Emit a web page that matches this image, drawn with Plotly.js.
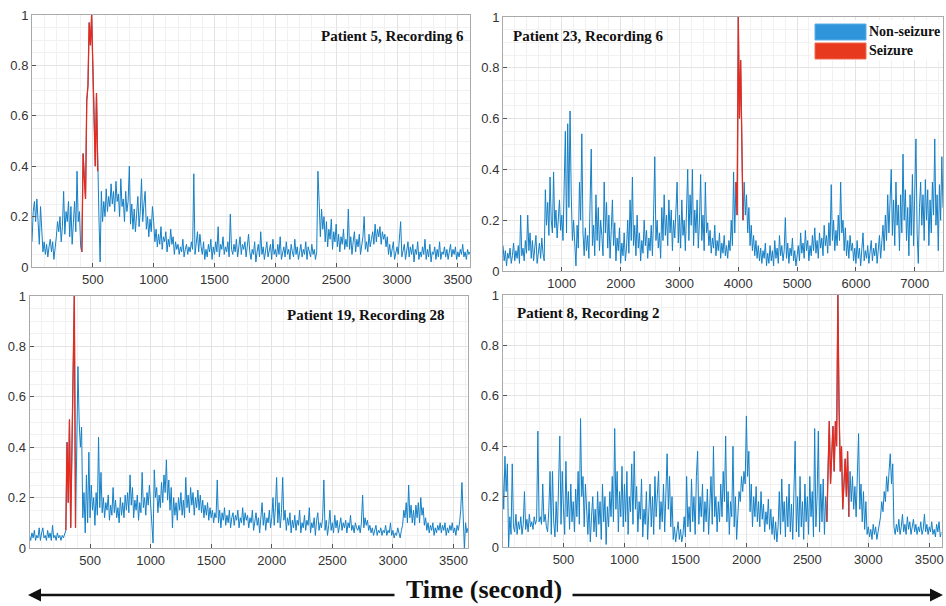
<!DOCTYPE html>
<html>
<head>
<meta charset="utf-8">
<script src="https://cdn.plot.ly/plotly-3.0.1.min.js"></script>
<style>
html,body{margin:0;padding:0;background:#fff;}
#chart{width:946px;height:606px;}
</style>
</head>
<body>
<div id="chart"></div>
<script>
// ---------------- DATA ----------------
const panelTitles = ["Patient 5, Recording 6", "Patient 23, Recording 6", "Patient 19, Recording 28", "Patient 8, Recording 2"];
const legendLabels = ["Non-seizure", "Seizure"];
const xAxisTitle = "Time (second)";
const yTickVals = [0, 0.2, 0.4, 0.6, 0.8, 1];
const yTickText = ["0", "0.2", "0.4", "0.6", "0.8", "1"];
const xTicks3600 = [500, 1000, 1500, 2000, 2500, 3000, 3500];
const xTicks7500 = [1000, 2000, 3000, 4000, 5000, 6000, 7000];

// Patient 5, Recording 6 : one value every 10 s, 0..3600 s
const p5Step = 10;
const p5Seizure = [410, 540];
const p5Values = [
0.10,0.22,0.26,0.18,0.27,0.15,0.09,0.24,0.12,0.06,0.10,0.05,0.09,0.04,0.08,0.11,0.06,0.10,0.03,0.07,
0.12,0.18,0.14,0.20,0.10,0.16,0.30,0.13,0.22,0.18,0.26,0.12,0.24,0.09,0.20,0.26,0.14,0.38,0.18,0.22,
0.08,0.06,0.45,0.35,0.27,0.66,0.72,0.97,0.88,1.00,0.82,0.62,0.40,0.69,0.38,0.20,0.02,0.30,0.18,0.26,
0.20,0.31,0.22,0.28,0.24,0.33,0.25,0.30,0.22,0.34,0.26,0.29,0.20,0.35,0.24,0.27,0.18,0.30,0.22,0.26,
0.40,0.17,0.25,0.15,0.23,0.14,0.21,0.28,0.16,0.22,0.35,0.18,0.25,0.30,0.15,0.20,0.12,0.19,0.14,0.24,
0.18,0.10,0.15,0.08,0.13,0.09,0.16,0.07,0.12,0.10,0.14,0.06,0.11,0.08,0.15,0.09,0.12,0.05,0.10,0.07,
0.09,0.05,0.08,0.06,0.11,0.04,0.07,0.09,0.05,0.08,0.06,0.10,0.07,0.37,0.05,0.09,0.14,0.06,0.13,0.08,
0.05,0.10,0.03,0.07,0.04,0.09,0.06,0.11,0.03,0.08,0.05,0.10,0.06,0.16,0.04,0.09,0.07,0.12,0.05,0.08,
0.06,0.10,0.04,0.21,0.07,0.05,0.09,0.06,0.11,0.04,0.08,0.12,0.05,0.09,0.07,0.10,0.04,0.08,0.13,0.06,
0.03,0.07,0.05,0.10,0.02,0.06,0.09,0.04,0.14,0.05,0.08,0.03,0.07,0.10,0.04,0.06,0.09,0.03,0.11,0.05,
0.07,0.04,0.09,0.05,0.12,0.03,0.06,0.08,0.04,0.10,0.05,0.07,0.03,0.09,0.06,0.04,0.11,0.05,0.08,0.03,
0.06,0.09,0.04,0.07,0.05,0.10,0.03,0.08,0.06,0.04,0.09,0.05,0.07,0.03,0.06,0.38,0.26,0.12,0.23,0.15,
0.20,0.10,0.18,0.08,0.15,0.11,0.19,0.07,0.14,0.10,0.17,0.08,0.13,0.06,0.12,0.09,0.15,0.07,0.11,0.08,
0.23,0.07,0.12,0.05,0.10,0.14,0.06,0.11,0.08,0.13,0.05,0.09,0.12,0.20,0.07,0.10,0.06,0.13,0.08,0.11,
0.14,0.09,0.17,0.10,0.15,0.12,0.16,0.09,0.14,0.11,0.13,0.08,0.12,0.05,0.09,0.04,0.07,0.10,0.03,0.06,
0.08,0.05,0.10,0.18,0.04,0.07,0.09,0.03,0.06,0.10,0.04,0.08,0.05,0.09,0.02,0.07,0.05,0.10,0.03,0.06,
0.04,0.08,0.05,0.11,0.03,0.07,0.04,0.09,0.02,0.06,0.05,0.08,0.03,0.07,0.04,0.10,0.03,0.06,0.05,0.08,
0.04,0.07,0.03,0.06,0.09,0.04,0.07,0.05,0.08,0.03,0.06,0.04,0.07,0.05,0.09,0.04,0.06,0.03,0.07,0.05,
0.06
];

// Patient 23, Recording 6 : one value every 20 s, 0..7480 s
const p23Step = 20;
const p23Seizure = [3960, 4080];
const p23Values = [
0.10,0.04,0.08,0.02,0.07,0.05,0.09,0.03,0.06,0.11,0.04,0.08,0.05,0.10,0.03,0.22,0.06,0.09,0.04,0.12,0.07,0.22,0.08,0.15,0.05,
0.12,0.04,0.09,0.14,0.03,0.08,0.11,0.05,0.13,0.07,0.04,0.32,0.18,0.27,0.14,0.37,0.20,0.15,0.39,0.17,0.24,0.13,0.21,0.28,0.16,
0.22,0.12,0.30,0.55,0.15,0.58,0.25,0.63,0.30,0.12,0.20,0.08,0.02,0.18,0.09,0.35,0.20,0.54,0.15,0.06,0.17,0.08,0.14,0.05,0.22,
0.48,0.10,0.18,0.06,0.30,0.12,0.25,0.08,0.20,0.14,0.06,0.35,0.15,0.27,0.09,0.22,0.05,0.16,0.28,0.10,0.19,0.04,0.13,0.08,0.17,
0.03,0.11,0.06,0.15,0.04,0.09,0.20,0.07,0.28,0.12,0.37,0.10,0.18,0.06,0.22,0.09,0.15,0.04,0.12,0.07,0.20,0.10,0.16,0.05,0.13,
0.08,0.18,0.06,0.22,0.45,0.12,0.20,0.09,0.15,0.05,0.25,0.12,0.30,0.14,0.22,0.10,0.28,0.15,0.24,0.08,0.20,0.13,0.26,0.35,0.11,
0.22,0.09,0.28,0.14,0.20,0.08,0.25,0.40,0.12,0.30,0.18,0.40,0.10,0.24,0.15,0.28,0.09,0.20,0.38,0.12,0.22,0.08,0.35,0.15,0.19,
0.10,0.16,0.07,0.13,0.09,0.18,0.06,0.12,0.08,0.15,0.05,0.11,0.07,0.14,0.06,0.10,0.05,0.12,0.08,0.20,0.10,0.39,0.15,0.35,0.22,
1.00,0.60,0.83,0.45,0.20,0.35,0.22,0.30,0.15,0.25,0.10,0.18,0.08,0.14,0.06,0.12,0.05,0.10,0.04,0.09,0.03,0.08,0.05,0.11,0.02,
0.07,0.03,0.10,0.04,0.08,0.02,0.12,0.05,0.09,0.03,0.14,0.06,0.10,0.04,0.08,0.21,0.05,0.11,0.03,0.09,0.06,0.13,0.04,0.08,0.02,
0.06,0.10,0.04,0.15,0.07,0.11,0.05,0.16,0.08,0.12,0.04,0.10,0.06,0.14,0.08,0.17,0.07,0.12,0.05,0.15,0.09,0.13,0.06,0.18,0.10,
0.14,0.07,0.19,0.10,0.34,0.12,0.20,0.08,0.16,0.10,0.22,0.12,0.35,0.15,0.20,0.08,0.17,0.06,0.12,0.05,0.14,0.08,0.11,0.04,0.09,
0.03,0.12,0.05,0.09,0.02,0.07,0.15,0.04,0.08,0.05,0.10,0.03,0.07,0.12,0.04,0.09,0.06,0.11,0.03,0.08,0.14,0.05,0.10,0.18,0.08,
0.22,0.12,0.30,0.15,0.25,0.40,0.14,0.28,0.10,0.35,0.18,0.26,0.08,0.30,0.15,0.46,0.20,0.32,0.12,0.25,0.06,0.30,0.14,0.38,0.10,
0.28,0.52,0.15,0.03,0.25,0.35,0.18,0.30,0.12,0.36,0.20,0.32,0.10,0.28,0.15,0.35,0.22,0.52,0.18,0.30,0.08,0.34,0.20,0.45,0.25
];

// Patient 19, Recording 28 : one value every 10 s, 0..3620 s
const p19Step = 10;
const p19Seizure = [300, 380];
const p19Values = [
0.05,0.03,0.06,0.04,0.07,0.03,0.05,0.04,0.08,0.03,0.06,0.08,0.04,0.05,0.03,0.07,0.04,0.06,0.03,0.09,
0.04,0.05,0.03,0.06,0.04,0.05,0.03,0.05,0.04,0.06,0.07,0.42,0.18,0.51,0.08,0.38,0.70,1.00,0.08,0.45,
0.72,0.50,0.40,0.48,0.12,0.22,0.06,0.29,0.10,0.38,0.12,0.25,0.15,0.20,0.09,0.22,0.13,0.44,0.16,0.30,
0.14,0.20,0.12,0.18,0.15,0.21,0.11,0.17,0.13,0.24,0.14,0.19,0.12,0.16,0.10,0.20,0.13,0.18,0.12,0.21,
0.15,0.22,0.14,0.29,0.17,0.24,0.12,0.19,0.15,0.21,0.11,0.18,0.14,0.30,0.16,0.20,0.13,0.22,0.17,0.25,
0.18,0.10,0.02,0.31,0.20,0.24,0.14,0.21,0.16,0.26,0.18,0.29,0.22,0.35,0.19,0.27,0.15,0.24,0.08,0.20,
0.13,0.18,0.11,0.20,0.15,0.22,0.13,0.19,0.12,0.28,0.16,0.21,0.14,0.24,0.17,0.22,0.13,0.20,0.16,0.23,
0.15,0.21,0.14,0.19,0.12,0.17,0.13,0.18,0.11,0.16,0.12,0.15,0.10,0.14,0.12,0.27,0.10,0.15,0.08,0.14,
0.11,0.16,0.09,0.13,0.10,0.15,0.08,0.12,0.14,0.09,0.13,0.11,0.15,0.08,0.12,0.10,0.16,0.09,0.14,0.11,
0.13,0.08,0.12,0.10,0.15,0.07,0.11,0.14,0.09,0.12,0.06,0.13,0.18,0.09,0.14,0.07,0.12,0.10,0.15,0.08,
0.12,0.20,0.09,0.16,0.28,0.10,0.18,0.08,0.14,0.28,0.11,0.15,0.07,0.12,0.09,0.14,0.06,0.11,0.08,0.13,
0.07,0.11,0.09,0.15,0.06,0.10,0.08,0.13,0.07,0.11,0.09,0.16,0.06,0.10,0.08,0.12,0.05,0.11,0.14,0.07,
0.10,0.08,0.12,0.27,0.07,0.11,0.05,0.09,0.15,0.07,0.10,0.06,0.13,0.08,0.11,0.06,0.09,0.12,0.07,0.10,
0.08,0.11,0.06,0.10,0.08,0.13,0.07,0.09,0.06,0.10,0.08,0.07,0.09,0.06,0.10,0.21,0.08,0.12,0.09,0.11,
0.07,0.09,0.06,0.08,0.05,0.07,0.09,0.05,0.07,0.06,0.08,0.05,0.07,0.06,0.09,0.05,0.07,0.06,0.10,0.05,
0.07,0.04,0.06,0.05,0.08,0.06,0.04,0.07,0.09,0.15,0.12,0.18,0.10,0.25,0.12,0.17,0.10,0.15,0.09,0.17,
0.12,0.18,0.10,0.20,0.13,0.16,0.09,0.12,0.07,0.10,0.06,0.09,0.07,0.10,0.05,0.08,0.06,0.09,0.07,0.10,
0.06,0.09,0.07,0.10,0.05,0.08,0.06,0.09,0.07,0.10,0.06,0.08,0.05,0.09,0.07,0.10,0.15,0.26,0.08,0.00,
0.10,0.06,0.08
];

// Patient 8, Recording 2 : one value every 10 s, 0..3600 s
const p8Step = 10;
const p8Seizure = [2660, 2840];
const p8Values = [
0.30,0.15,0.36,0.22,0.33,0.00,0.12,0.05,0.33,0.08,0.06,0.13,0.05,0.10,0.07,0.12,0.05,0.09,0.22,0.07,
0.11,0.06,0.13,0.08,0.10,0.07,0.12,0.09,0.11,0.46,0.10,0.12,0.09,0.25,0.10,0.13,0.08,0.06,0.15,0.30,
0.05,0.30,0.10,0.04,0.18,0.06,0.25,0.44,0.09,0.30,0.15,0.05,0.34,0.12,0.22,0.07,0.25,0.10,0.18,0.06,
0.23,0.12,0.30,0.09,0.51,0.20,0.28,0.08,0.25,0.14,0.05,0.18,0.02,0.12,0.20,0.06,0.15,0.04,0.22,0.09,
0.18,0.03,0.25,0.10,0.20,0.01,0.16,0.08,0.22,0.12,0.28,0.10,0.47,0.15,0.30,0.06,0.22,0.12,0.32,0.08,
0.25,0.10,0.30,0.05,0.20,0.14,0.33,0.09,0.38,0.15,0.24,0.06,0.18,0.11,0.27,0.04,0.15,0.09,0.22,0.03,
0.14,0.25,0.08,0.20,0.05,0.28,0.12,0.22,0.30,0.07,0.18,0.10,0.25,0.06,0.20,0.37,0.15,0.28,0.08,0.20,
0.03,0.08,0.02,0.06,0.10,0.03,0.07,0.02,0.05,0.12,0.04,0.28,0.08,0.16,0.06,0.27,0.10,0.20,0.05,0.28,
0.38,0.09,0.20,0.12,0.25,0.06,0.18,0.10,0.23,0.05,0.15,0.28,0.09,0.40,0.12,0.20,0.06,0.18,0.10,0.25,
0.12,0.30,0.18,0.44,0.10,0.22,0.05,0.18,0.12,0.40,0.08,0.20,0.03,0.15,0.22,0.18,0.28,0.22,0.30,0.25,
0.52,0.28,0.38,0.14,0.25,0.08,0.20,0.12,0.24,0.10,0.18,0.08,0.22,0.11,0.17,0.06,0.14,0.09,0.19,0.07,
0.15,0.05,0.12,0.03,0.10,0.02,0.08,0.22,0.05,0.27,0.10,0.18,0.04,0.20,0.08,0.25,0.06,0.17,0.03,0.22,
0.42,0.06,0.20,0.04,0.28,0.08,0.18,0.03,0.25,0.10,0.20,0.05,0.28,0.12,0.22,0.04,0.47,0.08,0.20,0.46,
0.06,0.25,0.10,0.27,0.05,0.20,0.10,0.32,0.50,0.25,0.35,0.48,0.30,0.50,0.40,1.00,0.55,0.30,0.40,0.15,
0.25,0.35,0.20,0.38,0.12,0.30,0.18,0.28,0.15,0.24,0.12,0.30,0.45,0.15,0.25,0.10,0.22,0.07,0.18,0.05,
0.08,0.04,0.07,0.03,0.09,0.05,0.08,0.03,0.06,0.10,0.12,0.18,0.14,0.22,0.18,0.28,0.22,0.30,0.37,0.25,
0.33,0.08,0.05,0.09,0.06,0.11,0.05,0.08,0.13,0.06,0.09,0.05,0.12,0.07,0.10,0.05,0.08,0.11,0.06,0.09,
0.05,0.08,0.06,0.10,0.05,0.07,0.13,0.06,0.09,0.05,0.08,0.06,0.10,0.05,0.07,0.04,0.09,0.06,0.10,0.04,
0.06
];

// ---------------- STYLE ----------------
const BLUE = "#1580c6";
const RED = "#e82a1c";
const GRID = "#e3e3e3";
const MINOR = "#f1f1f1";
const BOX = "#a9a9a9";
const TICKFONT = {family: "Liberation Sans, Arial, sans-serif", size: 13, color: "#333333"};
const SERIF = "Liberation Serif, Times New Roman, serif";

function buildTraces(values, step, seizure, ax) {
  const x = values.map((_, i) => i * step);
  const sx = [], sy = [];
  x.forEach((t, i) => { if (t >= seizure[0] && t <= seizure[1]) { sx.push(t); sy.push(values[i]); } });
  const xa = "x" + (ax === 1 ? "" : ax), ya = "y" + (ax === 1 ? "" : ax);
  return [
    {type: "scatter", mode: "lines", x: x, y: values, xaxis: xa, yaxis: ya,
     line: {color: BLUE, width: 1}, name: legendLabels[0], showlegend: false, hoverinfo: "skip"},
    {type: "scatter", mode: "lines", x: sx, y: sy, xaxis: xa, yaxis: ya,
     line: {color: RED, width: 1.3}, name: legendLabels[1], showlegend: false, hoverinfo: "skip"}
  ];
}

const traces = [].concat(
  buildTraces(p5Values, p5Step, p5Seizure, 1),
  buildTraces(p23Values, p23Step, p23Seizure, 2),
  buildTraces(p19Values, p19Step, p19Seizure, 3),
  buildTraces(p8Values, p8Step, p8Seizure, 4)
);

function xAxis(domain, range, ticks, minorStep, anchor) {
  return {
    domain: domain, range: range, anchor: anchor,
    tickmode: "array", tickvals: ticks, ticktext: ticks.map(String),
    ticks: "inside", ticklen: 4, tickcolor: "#555", tickwidth: 1,
    showline: true, linecolor: BOX, linewidth: 1, mirror: true,
    showgrid: true, gridcolor: GRID, gridwidth: 1,
    minor: {tick0: 0, dtick: minorStep, showgrid: true, gridcolor: MINOR, gridwidth: 1, ticks: ""},
    tickfont: TICKFONT, zeroline: false, fixedrange: true
  };
}
function yAxis(domain, anchor) {
  return {
    domain: domain, range: [0, 1], anchor: anchor,
    tickmode: "array", tickvals: yTickVals, ticktext: yTickText,
    ticks: "inside", ticklen: 4, tickcolor: "#555", tickwidth: 1,
    showline: true, linecolor: BOX, linewidth: 1, mirror: true,
    showgrid: true, gridcolor: GRID, gridwidth: 1,
    minor: {tick0: 0, dtick: 0.05, showgrid: true, gridcolor: MINOR, gridwidth: 1, ticks: ""},
    tickfont: TICKFONT, zeroline: false, fixedrange: true
  };
}

const W = 946, H = 606;
const px = v => v / W, py = v => 1 - v / H;

const layout = {
  width: W, height: H,
  margin: {l: 0, r: 0, t: 0, b: 0},
  paper_bgcolor: "#ffffff", plot_bgcolor: "#ffffff",
  showlegend: false,
  xaxis:  xAxis([px(32), px(470)], [0, 3600], xTicks3600, 100, "y"),
  yaxis:  yAxis([py(267), py(15)], "x"),
  xaxis2: xAxis([px(503), px(943)], [0, 7480], xTicks7500, 200, "y2"),
  yaxis2: yAxis([py(271), py(17)], "x2"),
  xaxis3: xAxis([px(29.5), px(468)], [0, 3620], xTicks3600, 100, "y3"),
  yaxis3: yAxis([py(548), py(296)], "x3"),
  xaxis4: xAxis([px(502.5), px(941.5)], [0, 3600], xTicks3600, 100, "y4"),
  yaxis4: yAxis([py(547), py(295)], "x4"),
  shapes: [
    // legend box and swatches (top-right panel)
    {type: "rect", xref: "paper", yref: "paper", x0: px(811), x1: px(942), y0: py(60), y1: py(20),
     fillcolor: "#ffffff", line: {width: 0}, layer: "above"},
    {type: "rect", xref: "paper", yref: "paper", x0: px(815), x1: px(866), y0: py(40), y1: py(24),
     fillcolor: "#2f95da", line: {color: "#5aaee6", width: 1}, layer: "above"},
    {type: "rect", xref: "paper", yref: "paper", x0: px(815), x1: px(866), y0: py(59), y1: py(43),
     fillcolor: "#e6391e", line: {color: "#f06a50", width: 1}, layer: "above"}
  ],
  annotations: [
    {text: "<b>" + panelTitles[0] + "</b>", xref: "paper", yref: "paper", x: px(466), y: py(36),
     xanchor: "right", yanchor: "middle", showarrow: false, font: {family: SERIF, size: 15, color: "#111"}},
    {text: "<b>" + panelTitles[1] + "</b>", xref: "paper", yref: "paper", x: px(511), y: py(36),
     xanchor: "left", yanchor: "middle", showarrow: false, font: {family: SERIF, size: 15, color: "#111"}},
    {text: "<b>" + panelTitles[2] + "</b>", xref: "paper", yref: "paper", x: px(446), y: py(315),
     xanchor: "right", yanchor: "middle", showarrow: false, font: {family: SERIF, size: 15, color: "#111"}},
    {text: "<b>" + panelTitles[3] + "</b>", xref: "paper", yref: "paper", x: px(515), y: py(313),
     xanchor: "left", yanchor: "middle", showarrow: false, font: {family: SERIF, size: 15, color: "#111"}},
    {text: "<b>" + legendLabels[0] + "</b>", xref: "paper", yref: "paper", x: px(867), y: py(32),
     xanchor: "left", yanchor: "middle", showarrow: false, font: {family: SERIF, size: 14, color: "#111"}},
    {text: "<b>" + legendLabels[1] + "</b>", xref: "paper", yref: "paper", x: px(867), y: py(51),
     xanchor: "left", yanchor: "middle", showarrow: false, font: {family: SERIF, size: 14, color: "#111"}},
    {text: "<b>" + xAxisTitle + "</b>", xref: "paper", yref: "paper", x: px(484), y: py(589),
     xanchor: "center", yanchor: "middle", showarrow: false, font: {family: SERIF, size: 26, color: "#111"}},
    // arrows on both sides of the axis title
    {text: "", xref: "paper", yref: "paper", x: px(28), y: py(595), ax: 368, ay: 0,
     showarrow: true, arrowhead: 2, arrowsize: 1, arrowwidth: 2.6, arrowcolor: "#111"},
    {text: "", xref: "paper", yref: "paper", x: px(943), y: py(595), ax: -372, ay: 0,
     showarrow: true, arrowhead: 2, arrowsize: 1, arrowwidth: 2.6, arrowcolor: "#111"}
  ]
};

Plotly.newPlot("chart", traces, layout, {staticPlot: true, displayModeBar: false});
</script>
</body>
</html>
